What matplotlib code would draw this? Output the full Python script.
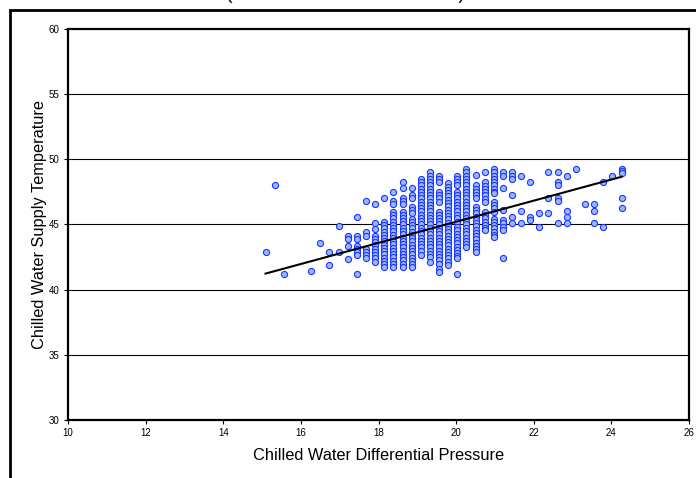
import matplotlib
matplotlib.use("Agg")
import matplotlib.pyplot as plt
import numpy as np
from matplotlib.patches import Rectangle

# pressure value of each column of points
col_pressure = [15.09, 15.33, 15.57, 16.27, 16.50, 16.73, 16.97, 17.21, 17.45, 17.68,
                17.92, 18.15, 18.38, 18.62, 18.86, 19.09, 19.33, 19.56, 19.79, 20.03,
                20.26, 20.50, 20.74, 20.98, 21.21, 21.44, 21.68, 21.91, 22.14, 22.38,
                22.62, 22.85, 23.09, 23.32, 23.55, 23.79, 24.02, 24.27]

# supply temperatures read in each column
col_temps = [
    [42.9],
    [48.0],
    [41.2],
    [41.4],
    [43.6],
    [42.9, 41.9],
    [44.85, 42.9],
    [44.1, 43.87, 43.36, 42.38],
    [45.56, 44.15, 43.9, 43.38, 43.15, 42.9, 42.64, 41.2],
    [46.8, 44.4, 44.15, 43.15, 42.9, 42.64, 42.4],
    [46.56, 45.08, 44.62, 44.15, 43.9, 43.65, 43.4, 43.15, 42.9, 42.65, 42.4, 42.13],
    [47.05, 45.2, 44.95, 44.7, 44.45, 44.2, 43.95, 43.7, 43.45, 43.2, 42.95, 42.7,
     42.45, 42.2, 41.95, 41.74],
    [47.5, 46.8, 46.54, 45.97, 45.72, 45.47, 45.22, 44.97, 44.72, 44.47, 44.22, 43.97,
     43.72, 43.47, 43.22, 42.97, 42.72, 42.47, 42.22, 41.97, 41.74],
    [48.26, 47.77, 47.05, 46.8, 46.54, 45.97, 45.75, 45.5, 45.25, 45.0, 44.75, 44.5,
     44.25, 44.0, 43.75, 43.5, 43.25, 43.0, 42.75, 42.5, 42.25, 42.0, 41.75],
    [47.77, 47.3, 47.05, 46.36, 46.1, 45.85, 45.46, 45.2, 44.95, 44.7, 44.45, 44.2,
     43.95, 43.7, 43.45, 43.2, 42.95, 42.7, 42.45, 42.2, 41.95, 41.74],
    [48.49, 48.25, 48.0, 47.75, 47.5, 47.25, 47.0, 46.75, 46.5, 46.25, 46.0, 45.75,
     45.5, 45.25, 45.0, 44.75, 44.5, 44.25, 44.0, 43.75, 43.5, 43.25, 43.0, 42.64],
    [49.0, 48.75, 48.5, 48.25, 48.0, 47.75, 47.5, 47.25, 47.0, 46.75, 46.5, 46.25,
     46.0, 45.75, 45.5, 45.25, 45.0, 44.75, 44.5, 44.25, 44.0, 43.75, 43.5, 43.25,
     43.0, 42.75, 42.5, 42.13],
    [48.75, 48.5, 48.28, 47.5, 47.25, 47.0, 46.75, 45.97, 45.75, 45.5, 45.25, 45.0,
     44.75, 44.5, 44.25, 44.0, 43.75, 43.5, 43.25, 43.0, 42.75, 42.5, 42.25, 42.0,
     41.6, 41.36],
    [48.15, 47.9, 47.65, 47.4, 47.15, 46.9, 46.65, 46.4, 46.15, 45.9, 45.65, 45.4,
     45.15, 44.9, 44.65, 44.4, 44.15, 43.9, 43.65, 43.4, 43.15, 42.9, 42.65, 42.4,
     42.15, 41.87],
    [48.74, 48.5, 48.25, 48.0, 47.5, 47.25, 47.0, 46.75, 46.5, 46.25, 46.0, 45.75,
     45.5, 45.2, 44.8, 44.55, 44.3, 44.05, 43.8, 43.55, 43.3, 43.05, 42.8, 42.55,
     42.4, 41.23],
    [49.26, 49.0, 48.75, 48.5, 48.25, 48.0, 47.75, 47.5, 47.25, 47.0, 46.75, 46.5,
     46.25, 46.0, 45.75, 45.5, 45.25, 45.0, 44.75, 44.5, 44.25, 44.0, 43.75, 43.5,
     43.28],
    [48.8, 48.0, 47.75, 47.5, 47.25, 47.0, 46.36, 46.1, 45.85, 45.6, 45.35, 45.1,
     44.85, 44.6, 44.35, 44.1, 43.85, 43.6, 43.35, 43.1, 42.9],
    [49.0, 48.23, 47.98, 47.73, 47.48, 47.23, 46.98, 46.74, 45.97, 45.72, 45.47,
     45.22, 44.97, 44.72, 44.56],
    [49.26, 49.0, 48.75, 48.5, 48.25, 48.0, 47.75, 47.5, 47.38, 46.74, 46.5, 46.25,
     45.97, 45.46, 45.2, 44.95, 44.7, 44.45, 44.2, 44.05],
    [49.0, 48.74, 47.77, 46.1, 45.33, 45.08, 44.82, 44.56, 42.4],
    [49.0, 48.74, 48.49, 47.3, 45.59, 45.08],
    [48.74, 46.05, 45.08],
    [48.26, 45.59, 45.33],
    [45.85, 44.82],
    [49.0, 47.0, 45.85],
    [49.0, 48.26, 48.0, 47.0, 46.8, 45.08],
    [48.74, 46.05, 45.59, 45.08],
    [49.23],
    [46.54],
    [46.54, 46.05, 45.08],
    [48.26, 44.82],
    [48.74],
    [49.28, 49.1, 48.95, 47.03, 46.28],
]

# linear trend
trend_slope = 0.81
trend_intercept = 29.01

x_ticks = [10, 12, 14, 16, 18, 20, 22, 24, 26]
y_ticks = [30, 35, 40, 45, 50, 55, 60]

pressure = []
temperature = []
for p, temps in zip(col_pressure, col_temps):
    for t in temps:
        pressure.append(p)
        temperature.append(t)
pressure = np.array(pressure)
temperature = np.array(temperature)

plt.rcParams['font.family'] = ['Liberation Sans', 'DejaVu Sans']

fig = plt.figure(figsize=(6.96, 4.78), dpi=100)
ax = fig.add_axes([68 / 696, 1 - 420 / 478, 621 / 696, 391 / 478])

for yt in y_ticks[1:-1]:
    ax.axhline(yt, color='black', lw=0.8, zorder=1)

ax.plot(pressure, temperature, 'o', ms=4.4, mfc='#99b8ff', mec='#1a33ff',
        mew=0.8, zorder=3)

tx = np.array([pressure.min(), pressure.max()])
ax.plot(tx, trend_intercept + trend_slope * tx, color='black', lw=1.5, zorder=4)

ax.set_xlim(10, 26)
ax.set_ylim(30, 60)
ax.set_xticks(x_ticks)
ax.set_yticks(y_ticks)
ax.tick_params(direction='out', length=3, width=0.8, labelsize=7, pad=3)
for s in ax.spines.values():
    s.set_linewidth(1.6)

ax.set_xlabel('Chilled Water Differential Pressure', fontsize=11.8, labelpad=7)
ax.set_ylabel('Chilled Water Supply Temperature', fontsize=11.8, labelpad=1)

# outer chart frame (runs off the right and bottom edges)
fig.patches.append(Rectangle((10 / 696, -0.05), 1.0, 1.05 - 10 / 478,
                             transform=fig.transFigure, fill=False,
                             edgecolor='black', lw=2.0))

# title, mostly above the visible area
fig.text(345 / 696, 1 + 1 / 478,
         '(                                          )',
         fontsize=14, ha='center', va='baseline')

fig.savefig('out.png', dpi=100)
